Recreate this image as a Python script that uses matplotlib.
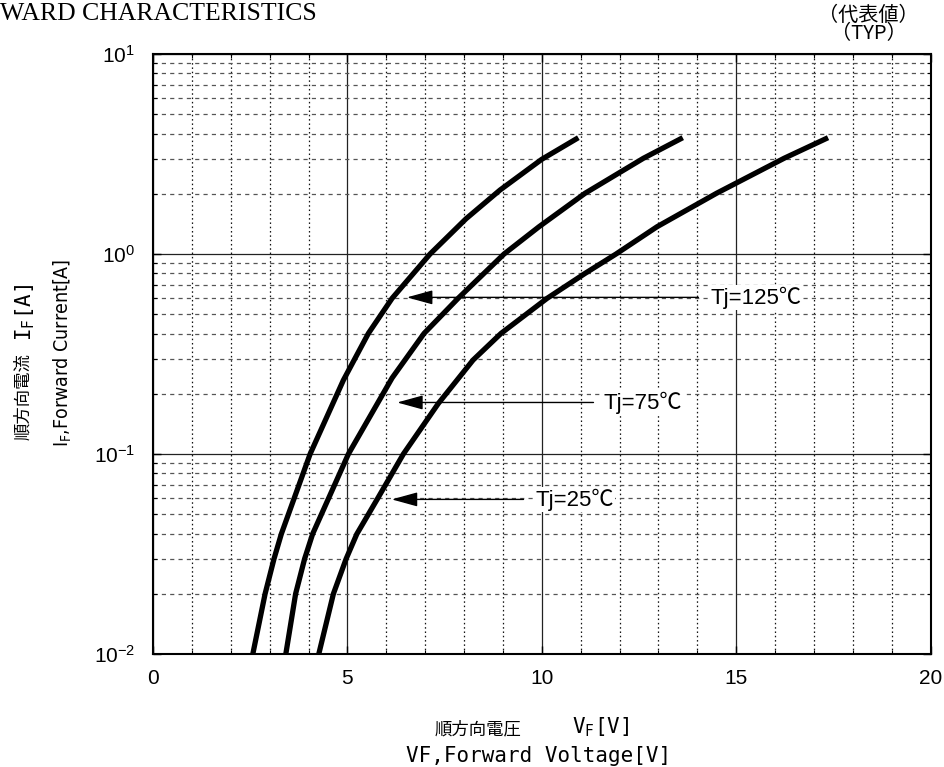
import matplotlib
matplotlib.use('Agg')
import matplotlib.pyplot as plt
from matplotlib import font_manager as fm
from matplotlib.ticker import FixedLocator, NullFormatter, LogLocator

# ---------------- data ----------------
vf_125 = [2.567, 2.883, 3.112, 3.300, 4.041, 4.897, 5.540, 6.149, 7.127, 8.053, 8.927, 10.00, 10.941]
if_125 = [0.010, 0.020, 0.0299, 0.0398, 0.100, 0.234, 0.401, 0.600, 1.000, 1.501, 2.089, 2.975, 3.815]

vf_75 = [3.416, 3.668, 3.899, 4.105, 5.026, 6.150, 6.973, 7.847, 9.030, 9.930, 11.114, 12.613, 13.627]
if_75 = [0.010, 0.020, 0.0299, 0.0398, 0.100, 0.240, 0.401, 0.600, 1.000, 1.369, 2.012, 3.009, 3.815]

vf_25 = [4.264, 4.640, 4.967, 5.242, 5.771, 6.440, 7.340, 8.233, 8.953, 10.136, 11.114, 11.911,
         12.966, 14.496, 16.232, 17.364]
if_25 = [0.010, 0.020, 0.0299, 0.0398, 0.0596, 0.100, 0.179, 0.295, 0.401, 0.600, 0.800, 1.000,
         1.369, 2.012, 3.009, 3.815]

labels = ['Tj=125℃', 'Tj=75℃', 'Tj=25℃']
arrow_y = [0.607, 0.181, 0.0593]
arrow_tip_x = [6.53, 6.28, 6.14]
arrow_tail_x = [14.03, 11.33, 9.53]
label_x = [14.33, 11.58, 9.83]

xticks = [0, 5, 10, 15, 20]
xtick_labels = ['0', '5', '10', '15', '20']
yticks = [0.01, 0.1, 1, 10]
ytick_labels = [r'$\mathdefault{10^{-2}}$', r'$\mathdefault{10^{-1}}$',
                r'$\mathdefault{10^{0}}$', r'$\mathdefault{10^{1}}$']
x_minor = list(range(0, 21))

# ---------------- style ----------------
plt.rcParams['font.family'] = ['Liberation Sans', 'Noto Sans CJK JP', 'DejaVu Sans']
plt.rcParams['mathtext.fontset'] = 'custom'
plt.rcParams['mathtext.rm'] = 'Liberation Sans'
plt.rcParams['mathtext.it'] = 'Liberation Sans:italic'
plt.rcParams['mathtext.bf'] = 'Liberation Sans:bold'
plt.rcParams['lines.scale_dashes'] = False

names = {f.name for f in fm.fontManager.ttflist}
if 'Liberation Sans Narrow' in names:
    narrow_fp = fm.FontProperties(family='Liberation Sans Narrow', size=17)
else:
    narrow_fp = fm.FontProperties(family='DejaVu Sans', stretch='condensed', size=14)

W, H = 944, 767
fig = plt.figure(figsize=(9.44, 7.67), dpi=100)
ax = fig.add_axes([0.1621, 0.1473, 0.8236, 0.7823])

ax.set_yscale('log')
ax.set_xlim(0, 20)
ax.set_ylim(0.01, 10)
ax.set_xticks(xticks)
ax.set_xticklabels(xtick_labels)
ax.set_yticks(yticks)
ax.set_yticklabels(ytick_labels)
ax.xaxis.set_minor_locator(FixedLocator(x_minor))
ax.yaxis.set_minor_locator(LogLocator(base=10, subs=range(2, 10)))
ax.yaxis.set_minor_formatter(NullFormatter())

ax.grid(which='major', color='#222222', lw=0.9, ls='-')
ax.grid(which='minor', axis='x', color='#111111', lw=0.9, ls=(0, (1.1, 2.0)))
ax.grid(which='minor', axis='y', color='#555555', lw=0.9, ls=(0, (3.0, 3.0)))

for s in ax.spines.values():
    s.set_linewidth(1.5)
    s.set_color('black')

ax.tick_params(which='both', direction='in', top=True, right=True, labelsize=15)
ax.tick_params(which='major', length=6, width=1)
ax.tick_params(which='minor', length=3, width=0.8)
ax.tick_params(axis='y', which='both', pad=13)
ax.tick_params(axis='x', which='both', pad=11)

for v, i in [(vf_125, if_125), (vf_75, if_75), (vf_25, if_25)]:
    ax.plot(v, i, color='black', lw=3.8, solid_capstyle='butt',
            solid_joinstyle='round', zorder=2.5)

for lab, y, xt, xa, xl in zip(labels, arrow_y, arrow_tip_x, arrow_tail_x, label_x):
    ax.annotate('', xy=(xt, y), xytext=(xa, y),
                arrowprops=dict(arrowstyle='-|>,head_length=0.8,head_width=0.22',
                                mutation_scale=20, color='black', lw=1,
                                shrinkA=0, shrinkB=0), zorder=3)
    ax.text(xl, y, lab, fontsize=16, ha='left', va='center', zorder=4,
            bbox=dict(facecolor='white', edgecolor='none', pad=1))

# ---------------- figure texts ----------------
def fx(px):
    return px / W

def fy(py):
    return 1 - py / H

fig.text(0.0, fy(20), 'WARD CHARACTERISTICS', family='Liberation Serif',
         fontsize=18.5, ha='left', va='baseline')
fig.text(fx(868), fy(15), '（代表値）', family='Noto Sans CJK JP',
         fontsize=14.5, ha='center', va='center')
fig.text(fx(869), fy(34), '（TYP）', family='Noto Sans CJK JP',
         fontsize=14.5, ha='center', va='center')

# y label, first line (Japanese + symbol)
fig.text(fx(23), fy(440), '順方向電流', rotation=90,
         family='Noto Sans CJK JP', fontsize=12.5, ha='center', va='bottom')
fig.text(fx(25), fy(341), 'I$_\\mathregular{F}$[A]', rotation=90,
         family='DejaVu Sans Mono', fontsize=15, ha='center', va='bottom')
# y label, second line
fig.text(fx(62), fy(353), 'I$_\\mathregular{F}$,Forward Current[A]', rotation=90,
         fontproperties=narrow_fp, ha='center', va='center')

# x label, first line
fig.text(fx(435), fy(734), '順方向電圧', family='Noto Sans CJK JP', fontsize=12.5,
         ha='left', va='baseline')
fig.text(fx(572), fy(734), 'V$_\\mathregular{F}$[V]', family='DejaVu Sans Mono',
         fontsize=15, ha='left', va='baseline')
# x label, second line
fig.text(fx(539), fy(756), 'VF,Forward Voltage[V]', family='DejaVu Sans Mono',
         fontsize=15, ha='center', va='center')

fig.savefig('out.png', dpi=100)
